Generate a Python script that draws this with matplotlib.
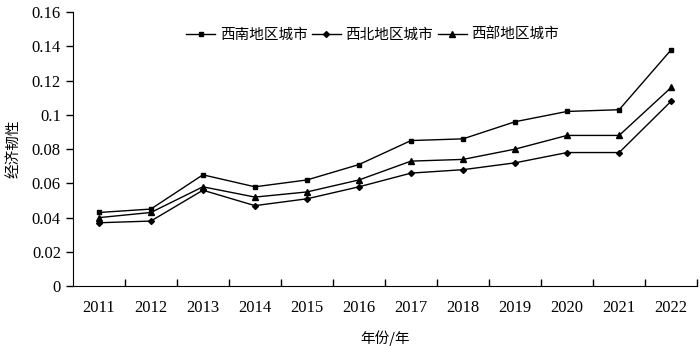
import matplotlib.pyplot as plt
from matplotlib.ticker import FixedLocator, FuncFormatter

years = ['2011', '2012', '2013', '2014', '2015', '2016',
         '2017', '2018', '2019', '2020', '2021', '2022']
southwest = [0.043, 0.045, 0.065, 0.058, 0.062, 0.071,
             0.085, 0.086, 0.096, 0.102, 0.103, 0.138]
northwest = [0.037, 0.038, 0.056, 0.047, 0.051, 0.058,
             0.066, 0.068, 0.072, 0.078, 0.078, 0.108]
west = [0.040, 0.043, 0.058, 0.052, 0.055, 0.062,
        0.073, 0.074, 0.080, 0.088, 0.088, 0.116]
series_names = ['西南地区城市', '西北地区城市', '西部地区城市']

cjk = ['Noto Sans CJK SC', 'DejaVu Sans']
num_font = 'Liberation Serif'

fig = plt.figure(figsize=(7, 3.46), dpi=100)
ax = fig.add_axes([0.104, 0.173, 0.892, 0.792])

x = list(range(len(years)))
ax.plot(x, southwest, color='black', lw=1, marker='s', ms=3.5, label=series_names[0])
ax.plot(x, northwest, color='black', lw=1, marker='D', ms=3, label=series_names[1])
ax.plot(x, west, color='black', lw=1, marker='^', ms=4.5, label=series_names[2])

ax.set_xlim(-0.5, len(years) - 0.5)
ax.set_ylim(0, 0.16)
ax.set_yticks([0, 0.02, 0.04, 0.06, 0.08, 0.1, 0.12, 0.14, 0.16])
ax.yaxis.set_major_formatter(FuncFormatter(lambda v, p: '0' if v == 0 else ('%g' % v)))

ax.set_xticks(x)
ax.set_xticklabels(years)
ax.xaxis.set_minor_locator(FixedLocator([i + 0.5 for i in x]))
ax.tick_params(axis='x', which='major', length=0, pad=10)
ax.tick_params(axis='x', which='minor', direction='in', length=5, width=1)
ax.tick_params(axis='y', direction='out', length=5, width=1)

for lab in ax.get_xticklabels() + ax.get_yticklabels():
    lab.set_fontfamily(num_font)
    lab.set_fontsize(12)

for s in ['top', 'right']:
    ax.spines[s].set_visible(False)

ax.set_xlabel('年份/年', fontfamily=cjk, fontsize=10.5, labelpad=10)
ax.set_ylabel('经济韧性', fontfamily=cjk, fontsize=10.5, labelpad=8)

ax.legend(loc='upper center', bbox_to_anchor=(0.48, 0.99), ncol=3, frameon=False,
          prop={'family': cjk, 'size': 10.5}, handlelength=2.0,
          handletextpad=0.3, columnspacing=0.3)

fig.savefig('out.png', dpi=100)
